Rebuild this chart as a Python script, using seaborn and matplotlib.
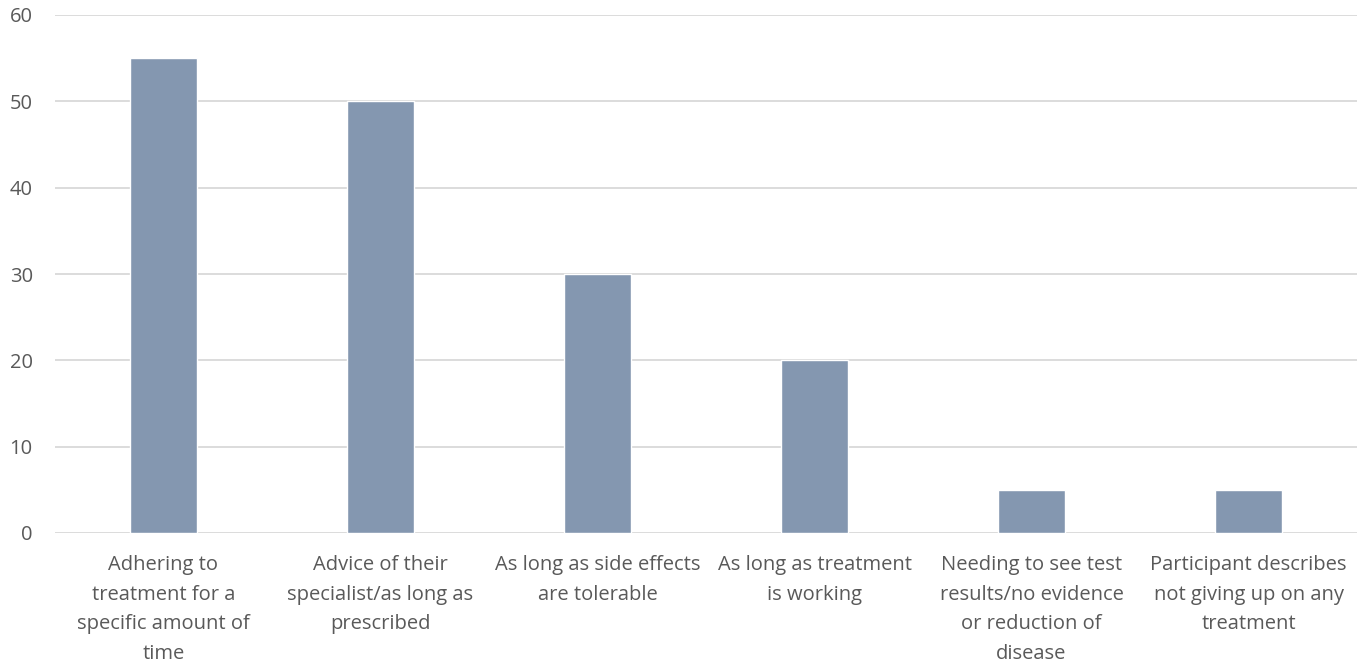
import matplotlib
matplotlib.use("Agg")
import matplotlib.pyplot as plt
import seaborn as sns
import pandas as pd

categories = [
    "Adhering to\ntreatment for a\nspecific amount of\ntime",
    "Advice of their\nspecialist/as long as\nprescribed",
    "As long as side effects\nare tolerable",
    "As long as treatment\nis working",
    "Needing to see test\nresults/no evidence\nor reduction of\ndisease",
    "Participant describes\nnot giving up on any\ntreatment",
]
values = [55, 50, 30, 20, 5, 5]
yticks = [0, 10, 20, 30, 40, 50, 60]

sns.set_theme(style="white")
plt.rcParams['font.family'] = ['Open Sans', 'DejaVu Sans']

df = pd.DataFrame({"cat": categories, "val": values})

fig = plt.figure(figsize=(13.67, 6.67), dpi=100)
ax = fig.add_axes([55/1367, 1-533/667, (1357-55)/1367, (533-15)/667])
sns.barplot(data=df, x="cat", y="val", color="#8497B0", width=0.31, ax=ax,
            saturation=1, zorder=3)
ax.set_ylim(0, 60)
ax.set_xlim(-0.5, len(categories) - 0.5)
ax.set_yticks(yticks)
ax.yaxis.grid(True, color="#D9D9D9", linewidth=1.3, zorder=0)
ax.set_axisbelow(True)
for s in ax.spines.values():
    s.set_visible(False)
ax.set_xlabel("")
ax.set_ylabel("")
ax.tick_params(axis="both", length=0, colors="#595959", labelsize=14.5)
ax.tick_params(axis="x", pad=16)
ax.tick_params(axis="y", pad=16)
for lab in ax.get_xticklabels():
    lab.set_linespacing(1.63)
fig.savefig("out.png", dpi=100)
